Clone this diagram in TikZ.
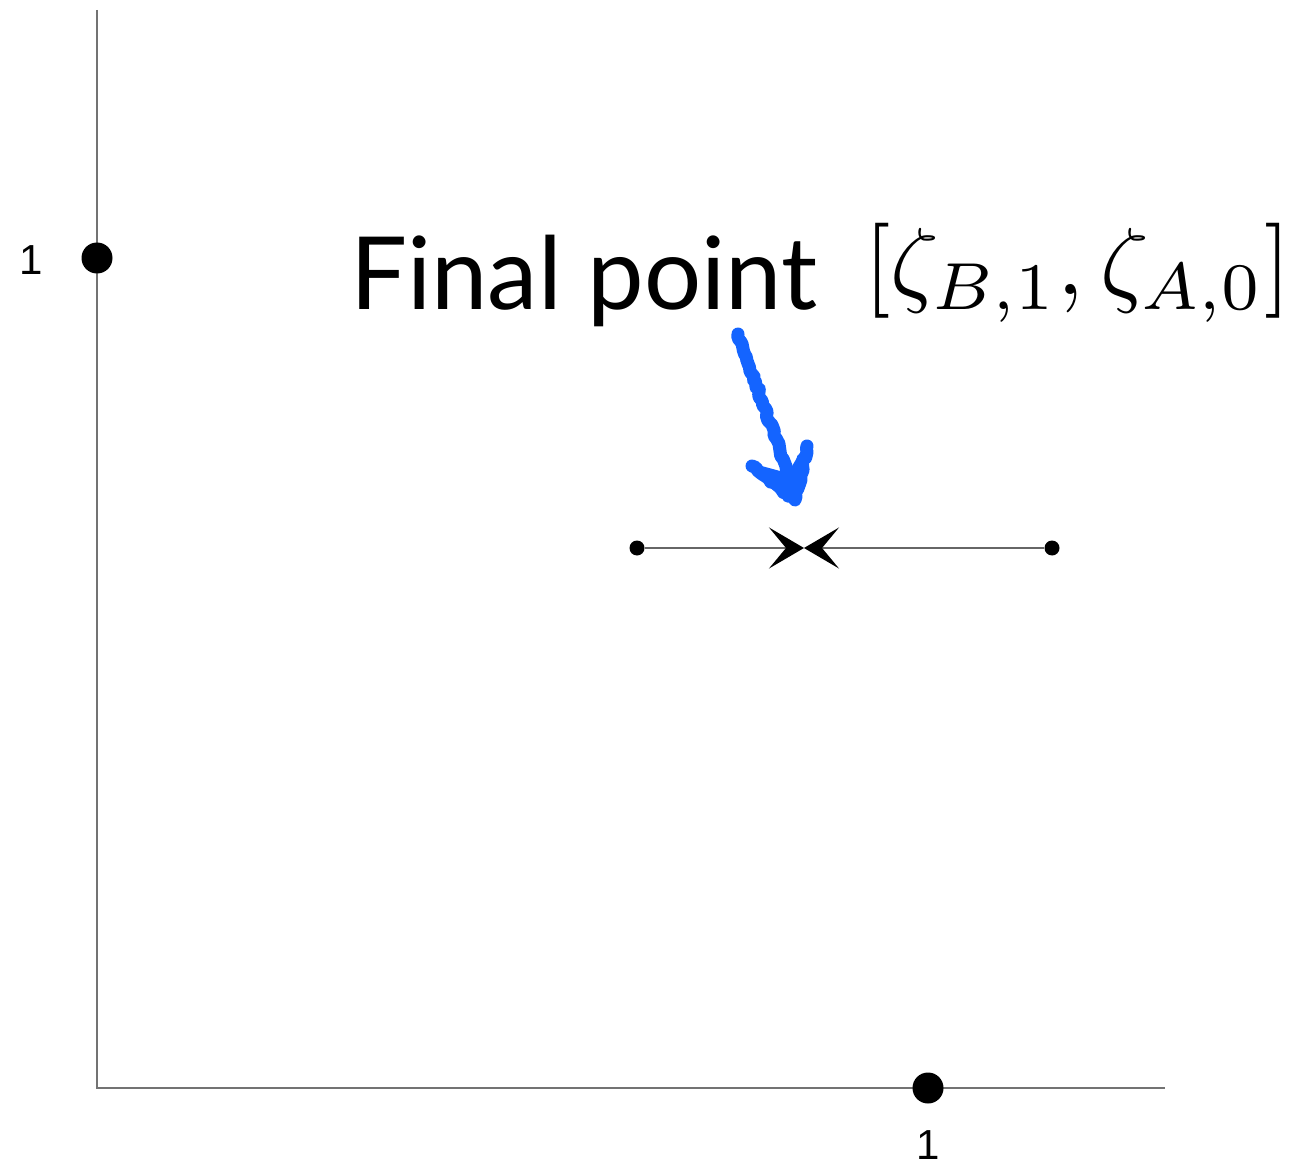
\documentclass[tikz,border=0pt]{standalone}
\usepackage{graphicx}
\usepackage{fontspec}
\setsansfont{Lato}
\newfontfamily\axisfont{Liberation Sans}
\usetikzlibrary{arrows.meta,decorations.pathmorphing}
\definecolor{penblue}{RGB}{20,100,255}
\begin{document}
\begin{tikzpicture}[x=1pt,y=-1pt,
  axis/.style={draw=black!55,line width=1.5pt},
  bigdot/.style={circle,fill=black,inner sep=0pt,minimum size=31pt},
  smalldot/.style={circle,fill=black,inner sep=0pt,minimum size=15pt},
  seg/.style={draw=black!60,line width=1.5pt},
  tip/.style={-{Stealth[length=35pt,width=41pt,inset=17pt,color=black]}},
  axlabel/.style={font=\axisfont\fontsize{42}{42}\selectfont},
  blue arrow/.style={draw=penblue,line width=13pt,line cap=round,line join=round,
    decorate,decoration={random steps,segment length=4pt,amplitude=1.5pt}},
  blue fill/.style={fill=penblue,draw=penblue,line width=5pt,line join=round}]
\useasboundingbox (0,0) rectangle (1312,1166);
% axes
\coordinate (O) at (97,1088);
\coordinate (ytop) at (97,10);
\coordinate (xend) at (1165,1088);
\draw[axis] (ytop) -- (O) -- (xend);
\node[bigdot] (p1) at (97,258) {};
\node[bigdot] (p2) at (928,1088) {};
\node[axlabel] (l1) at (31,260) {1};
\node[axlabel] (l2) at (928,1145) {1};
% segment
\node[smalldot] (a) at (637,548) {};
\node[smalldot] (b) at (1052,548) {};
\coordinate (m) at (804,548);
\draw[seg,tip] (a) -- (m);
\draw[seg,tip] (b) -- (m);
% label
\node[anchor=base west,inner sep=0pt,font=\sffamily\fontsize{101}{101}\selectfont] (fp) at (350,310) {Final point};
\node[anchor=base west,inner sep=0pt] (z) at (864,295) {\scalebox{9.5}{$[\zeta_{B,1},\zeta_{A,0}]$}};
% blue arrow
\coordinate (bs) at (738,334);
\coordinate (be) at (795,500);
\coordinate (bl) at (752,466);
\coordinate (br) at (807,446);
\coordinate (bc) at (789,476);
\draw[blue arrow] (bs) -- (bc);
\draw[blue arrow] (bl) -- (be) -- (br);
\filldraw[blue fill] (bl) -- (be) -- (br) -- (bc) -- cycle;
\end{tikzpicture}
\end{document}
